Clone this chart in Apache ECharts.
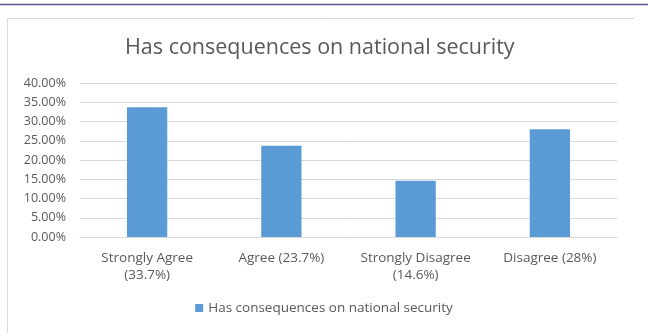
<!DOCTYPE html>
<html><head><meta charset="utf-8">
<script src="https://cdn.jsdelivr.net/npm/echarts@6/dist/echarts.min.js"></script>
<style>html,body{margin:0;padding:0;background:#fff;}#c{width:648px;height:333px;}</style>
</head><body><div id="c"></div>
<script>
const categories = ["Strongly Agree\n(33.7%)", "Agree (23.7%)", "Strongly Disagree\n(14.6%)", "Disagree (28%)"];
const values = [33.7, 23.7, 14.6, 28.0];
const seriesName = "Has consequences on national security";
const titleText = "Has consequences on national security";

const chart = echarts.init(document.getElementById('c'), null, {renderer: 'canvas'});
const font = "'Open Sans', sans-serif";
chart.setOption({
  animation: false,
  backgroundColor: '#fff',
  graphic: [
    {type: 'line', shape: {x1: 0, y1: 4.5, x2: 648, y2: 4.5}, style: {stroke: '#55558f', lineWidth: 1.5}},
    {type: 'polyline', shape: {points: [[7.5, 333], [7.5, 18.5], [634, 18.5]]}, style: {stroke: '#d9d9d9', lineWidth: 1, fill: null}}
  ],
  title: {
    text: titleText, left: 120, top: 32, padding: 5,
    textStyle: {fontFamily: font, fontSize: 21.5, fontWeight: 'normal', color: '#595959'}
  },
  legend: {
    bottom: 13, left: 'center', itemWidth: 8, itemHeight: 8, itemGap: 4,
    icon: 'rect',
    textStyle: {fontFamily: font, fontSize: 13.5, color: '#595959'},
    data: [seriesName]
  },
  grid: {left: 80, right: 31, top: 83, bottom: 96, containLabel: false},
  xAxis: {
    type: 'category', data: categories,
    axisLine: {lineStyle: {color: '#d9d9d9'}},
    axisTick: {show: false},
    axisLabel: {fontFamily: font, fontSize: 13.5, color: '#595959', margin: 13, lineHeight: 17, interval: 0}
  },
  yAxis: {
    type: 'value', min: 0, max: 40, interval: 5,
    axisLine: {show: false}, axisTick: {show: false},
    splitLine: {lineStyle: {color: '#d9d9d9'}},
    axisLabel: {fontFamily: font, fontSize: 12.5, color: '#595959', margin: 14,
      formatter: v => v.toFixed(2) + '%'}
  },
  series: [{
    name: seriesName, type: 'bar', data: values, barWidth: '30%',
    itemStyle: {color: '#5b9bd5'}
  }]
});
</script></body></html>
